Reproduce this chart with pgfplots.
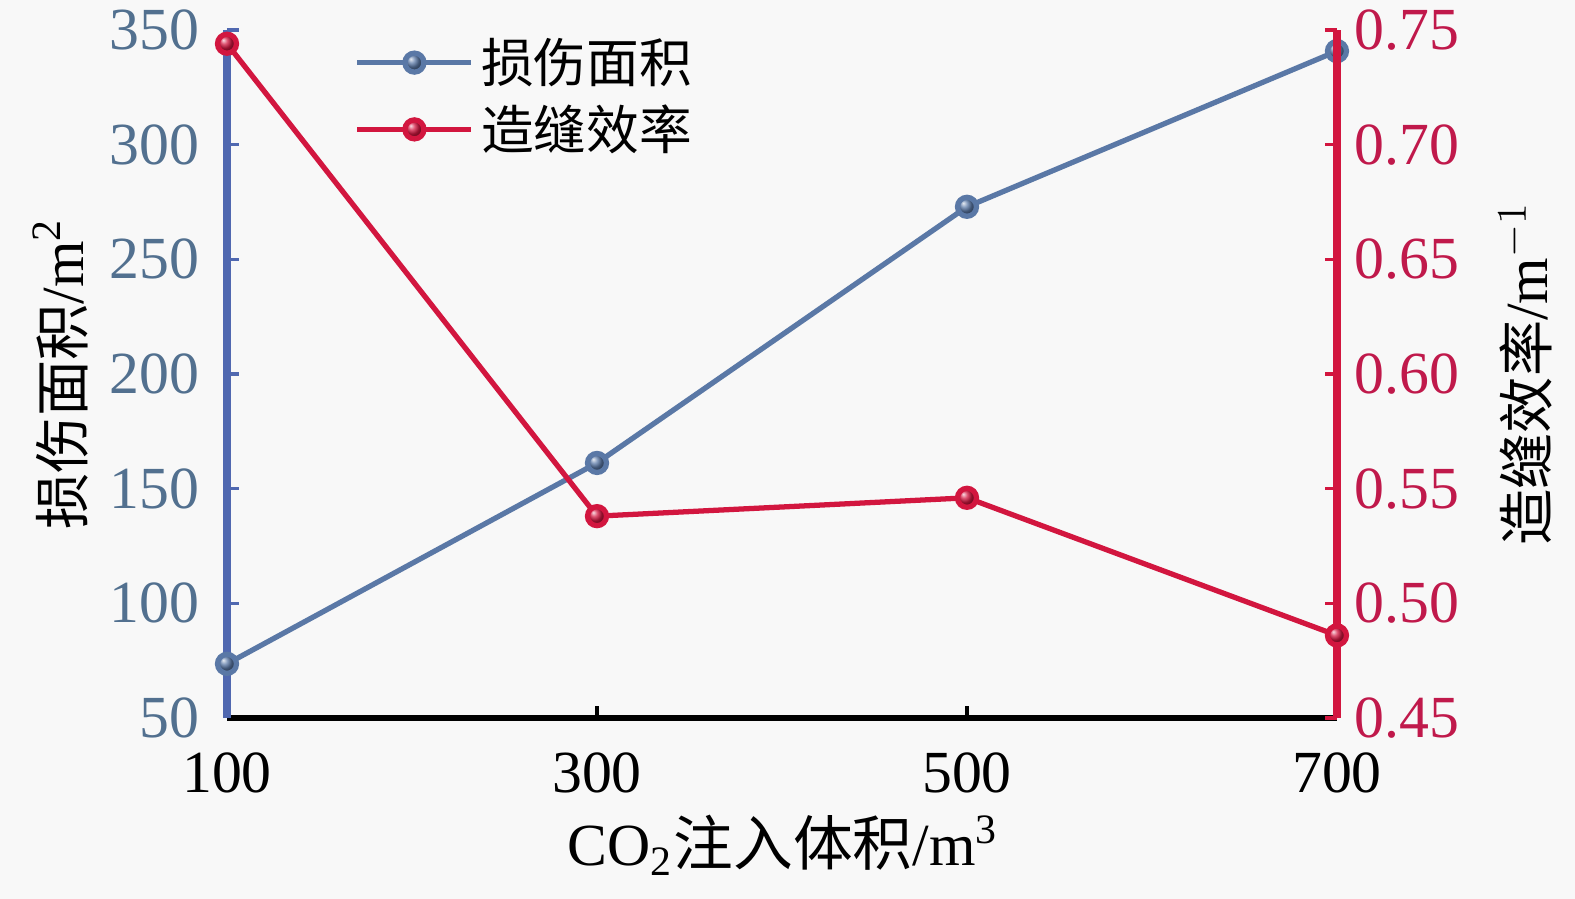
\documentclass[border=0pt]{standalone}
\usepackage{fontspec}
\setmainfont{Liberation Serif}
\newfontfamily\cjk{Noto Sans CJK SC}
\usepackage{pgfplots}
\pgfplotsset{compat=1.18}
\definecolor{bgc}{HTML}{F8F8F8}
\definecolor{lblue}{HTML}{5A78A6}
\definecolor{axblue}{HTML}{5068B0}
\definecolor{tblue}{HTML}{52708F}
\definecolor{cred}{HTML}{D2163F}
\definecolor{tred}{HTML}{C0194B}
\begin{document}
\begin{tikzpicture}
\fill[bgc] (-22.7mm,-18.1mm) rectangle (134.8mm,71.8mm);
\pgfplotsset{every axis/.append style={
  scale only axis, width=111mm, height=68.8mm,
  xmin=100, xmax=700, xtick={100,300,500,700},
  font=\fontsize{17}{20}\selectfont,
  /pgf/number format/assume math mode=true,
  tick align=inside, major tick length=1.2mm,
  axis line style={-},
  clip=false,
}}
\begin{axis}[
  axis x line*=bottom, axis y line*=left,
  ymin=50, ymax=350, ytick={50,100,...,350},
  x axis line style={black, line width=1.8pt},
  y axis line style={axblue, line width=2pt},
  xtick style={black, line width=1pt},
  ytick style={axblue, line width=1pt},
  yticklabel style={text=tblue, xshift=-1.5mm},
  xticklabel style={text=black, yshift=-2.2mm},
  xlabel={CO\textsubscript{2}{\cjk 注入体积}/m\textsuperscript{3}},
  every axis x label/.style={at={(axis description cs:0.501,-0.185)}, anchor=center},
  ylabel={{\fontsize{16}{19}\selectfont\cjk 损伤面积}/m\textsuperscript{2}},
  every axis y label/.style={at={(axis description cs:-0.150,0.5)}, rotate=90, anchor=center},
]
\addplot[lblue, line width=1.5pt, mark=ball, mark size=2.7pt, mark options={ball color=lblue}]
  coordinates {(100,73.6) (300,161.2) (500,272.9) (700,340.8)};
\end{axis}
\begin{axis}[
  axis x line=none, axis y line*=right,
  ymin=0.45, ymax=0.75, ytick={0.45,0.50,...,0.75},
  y axis line style={cred, line width=2pt},
  ytick style={cred, line width=1pt},
  yticklabel style={text=tred, xshift=0.5mm, /pgf/number format/fixed, /pgf/number format/fixed zerofill, /pgf/number format/precision=2},
  ylabel={{\fontsize{16}{19}\selectfont\cjk 造缝效率}/m\textsuperscript{$-1$}},
  every axis y label/.style={at={(axis description cs:1.170,0.5)}, rotate=90, anchor=center},
  legend style={draw=none, fill=none, at={(0.105,1.01)}, anchor=north west, row sep=0.3mm, font=\fontsize{15}{18}\selectfont\cjk},
  legend cell align=left,
  legend image code/.code={\draw[mark repeat=2, mark phase=2] plot coordinates {(0mm,0mm) (5.7mm,0mm) (11.4mm,0mm)};},
]
\addlegendimage{lblue, line width=1.5pt, mark=ball, mark size=2.7pt, mark options={ball color=lblue}}
\addlegendentry{损伤面积}
\addplot[cred, line width=1.5pt, mark=ball, mark size=2.7pt, mark options={ball color=cred}]
  coordinates {(100,0.744) (300,0.538) (500,0.546) (700,0.486)};
\addlegendentry{造缝效率}
\end{axis}
\pgfresetboundingbox
\path (-22.7mm,-18.1mm) rectangle (134.8mm,71.8mm);
\end{tikzpicture}
\end{document}
